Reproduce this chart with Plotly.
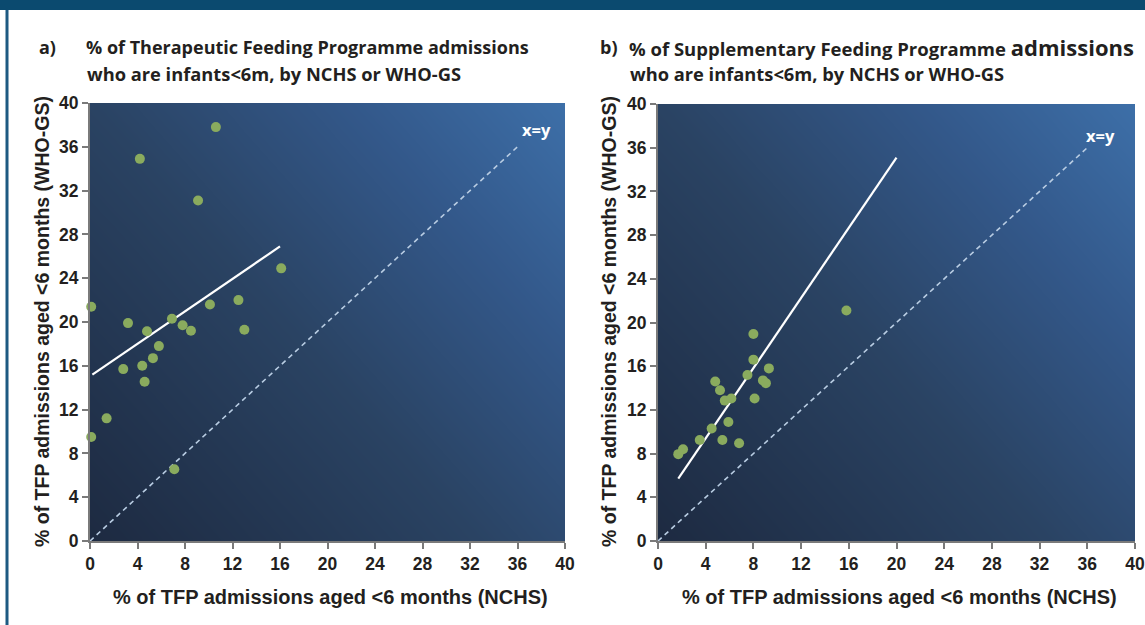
import numpy as np
import plotly.graph_objects as go

# ---------------- data ----------------
ticks = [0, 4, 8, 12, 16, 20, 24, 28, 32, 36, 40]

# Panel a: Therapeutic Feeding Programme
a_nchs = [4.2, 10.6, 9.1, 16.1, 0.1, 3.2, 4.8, 5.8, 5.3, 4.4, 2.8, 4.6,
          6.9, 7.8, 8.5, 10.1, 12.5, 13.0, 1.4, 0.1, 7.1]
a_who = [34.9, 37.8, 31.1, 24.9, 21.4, 19.9, 19.15, 17.8, 16.7, 16.0, 15.7, 14.55,
         20.3, 19.7, 19.2, 21.6, 22.0, 19.3, 11.2, 9.5, 6.55]
a_fit_x = [0.2, 16.0]
a_fit_y = [15.2, 26.9]

# Panel b: Supplementary Feeding Programme
b_nchs = [15.8, 8.0, 8.0, 9.3, 7.5, 8.8, 9.05, 4.8, 5.2, 5.6, 6.15, 8.1,
          5.9, 4.5, 3.5, 5.4, 6.8, 2.1, 1.7]
b_who = [21.1, 18.95, 16.6, 15.8, 15.2, 14.7, 14.45, 14.6, 13.8, 12.85, 13.05, 13.05,
         10.9, 10.3, 9.25, 9.25, 8.95, 8.4, 7.95]
b_fit_x = [1.7, 20.0]
b_fit_y = [5.7, 35.1]

identity = [0, 36]
panel_titles = {
    "a": ["% of Therapeutic Feeding Programme admissions",
          "who are infants<6m, by NCHS or WHO-GS"],
    "b": ["% of Supplementary Feeding Programme <span style='font-size:22px'>admissions</span>",
          "who are infants<6m, by NCHS or WHO-GS"],
}
x_title = "% of TFP admissions aged <6 months (NCHS)"
y_title = "% of TFP admissions aged <6 months (WHO-GS)"

# ---------------- figure ----------------
W, H = 1145, 625
def px(x):
    return x / W
def py(y):
    return 1 - y / H

fig = go.Figure()

# gradient background for each panel (style only)
g = np.linspace(0, 40, 41)
gz = [[0.55 * xv / 40 + 0.45 * yv / 40 for xv in g] for yv in g]
bg_scale = [[0, "#1d2a41"], [0.45, "#2a4363"], [0.75, "#33588a"], [1, "#3d6fa8"]]
for xa, ya in (("x", "y"), ("x2", "y2")):
    fig.add_trace(go.Heatmap(x=g, y=g, z=gz, colorscale=bg_scale, showscale=False,
                             zsmooth="best", hoverinfo="skip", xaxis=xa, yaxis=ya))

marker = dict(color="#8aab5e", size=10, line=dict(width=0))
for xa, ya, xs, ys, fx, fy in (("x", "y", a_nchs, a_who, a_fit_x, a_fit_y),
                               ("x2", "y2", b_nchs, b_who, b_fit_x, b_fit_y)):
    fig.add_trace(go.Scatter(x=identity, y=identity, mode="lines",
                             line=dict(color="#b9cde3", width=1.6, dash="5px,4px"),
                             xaxis=xa, yaxis=ya, hoverinfo="skip"))
    fig.add_trace(go.Scatter(x=fx, y=fy, mode="lines",
                             line=dict(color="white", width=2.2),
                             xaxis=xa, yaxis=ya, hoverinfo="skip"))
    fig.add_trace(go.Scatter(x=xs, y=ys, mode="markers", marker=marker,
                             cliponaxis=False, xaxis=xa, yaxis=ya))

tickfont = dict(family="Liberation Sans", size=17.5, color="#231f20", weight="bold")
axis_common = dict(range=[0, 40], tickvals=ticks, showgrid=False, zeroline=False,
                   showline=True, linecolor="#7a7a7a", linewidth=2,
                   ticks="outside", ticklen=6, tickwidth=2, tickcolor="#7a7a7a",
                   tickfont=tickfont, fixedrange=True, automargin=False)

fig.update_layout(
    template="none",
    width=W, height=H, margin=dict(l=0, r=0, t=0, b=0, pad=0, autoexpand=False),
    paper_bgcolor="white", plot_bgcolor="#2a4363", showlegend=False,
    xaxis=dict(domain=[px(90), px(565)], anchor="y", **axis_common),
    yaxis=dict(domain=[py(541), py(103)], anchor="x", **axis_common),
    xaxis2=dict(domain=[px(658), px(1135)], anchor="y2", **axis_common),
    yaxis2=dict(domain=[py(541), py(104)], anchor="x2", **axis_common),
)

# frame decoration
fig.add_shape(type="rect", xref="paper", yref="paper", x0=0, x1=1, y0=py(10), y1=1,
              fillcolor="#0b4a6f", line_width=0, layer="above")
fig.add_shape(type="rect", xref="paper", yref="paper", x0=px(5.5), x1=px(8.5), y0=0, y1=py(10),
              fillcolor="#1d5a82", line_width=0, layer="above")

def tfont(size):
    return dict(family="Open Sans", size=size, color="#231f20", weight=700)

ann = []
for key, lx, tx, s1 in (("a", 37, 84, 18), ("b", 598, 627, 18.5)):
    ann.append(dict(text=key + ")", x=px(lx), y=py(47), xref="paper", yref="paper",
                    xanchor="left", yanchor="middle", showarrow=False, font=tfont(18)))
    ann.append(dict(text=panel_titles[key][0], x=px(tx), y=py(47), xref="paper", yref="paper",
                    xanchor="left", yanchor="middle", showarrow=False, font=tfont(s1)))
    ann.append(dict(text=panel_titles[key][1], x=px(tx + 1), y=py(73), xref="paper", yref="paper",
                    xanchor="left", yanchor="middle", showarrow=False, font=tfont(18.3)))

xt_font = dict(family="Liberation Sans", size=20, color="#231f20", weight="bold")
yt_font = dict(family="Liberation Sans", size=19.5, color="#231f20", weight="bold")
for cx, ycx in ((330, 42), (899, 609)):
    ann.append(dict(text=x_title, x=px(cx), y=py(597), xref="paper", yref="paper",
                    xanchor="center", yanchor="middle", showarrow=False, font=xt_font))
    ann.append(dict(text=y_title, x=px(ycx), y=py(322), xref="paper", yref="paper",
                    xanchor="center", yanchor="middle", showarrow=False, textangle=-90,
                    font=yt_font))

xy_font = dict(family="Open Sans", size=16.5, color="white", weight=700)
ann.append(dict(text="x=y", x=37.6, y=37.6, xref="x", yref="y", showarrow=False, font=xy_font))
ann.append(dict(text="x=y", x=37.1, y=37.1, xref="x2", yref="y2", showarrow=False, font=xy_font))

fig.update_layout(annotations=ann)
fig.write_html("out.html", config={"displayModeBar": False},
               post_script="document.body.style.margin='0';")
